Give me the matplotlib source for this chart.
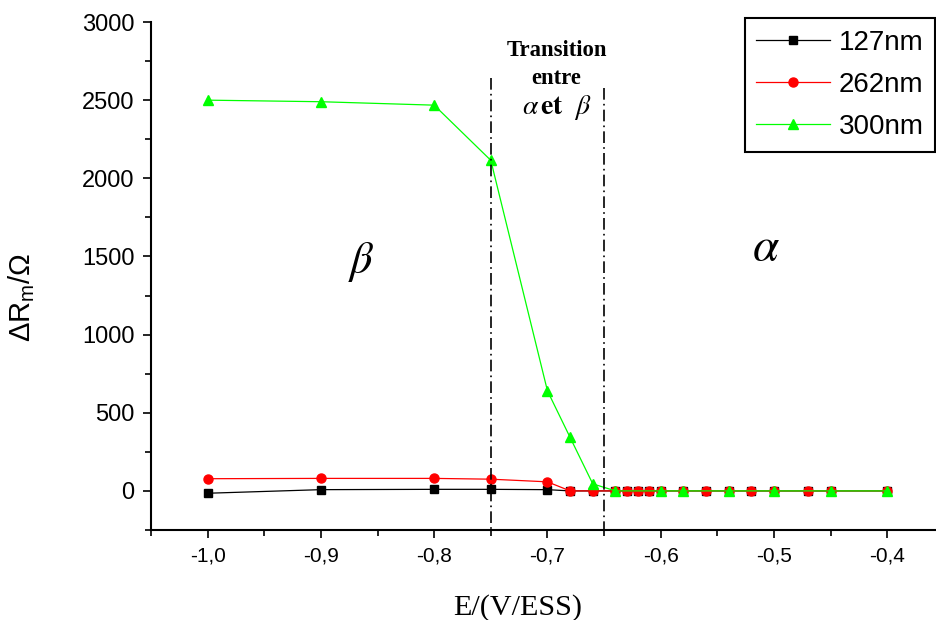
import numpy as np
import matplotlib
matplotlib.use('Agg')
import matplotlib.pyplot as plt
from matplotlib.ticker import MultipleLocator, FuncFormatter

plt.rcParams['font.family'] = 'Liberation Sans'

# données
E_127 = [-1.0, -0.9, -0.8, -0.75, -0.7, -0.68, -0.66, -0.64, -0.63, -0.62,
         -0.61, -0.60, -0.58, -0.56, -0.54, -0.52, -0.50, -0.47, -0.45, -0.40]
dR_127 = [-15, 8, 10, 10, 8, 0, 0, 0, 0, 0, 0, 0, 0, 0, 0, 0, 0, 0, 0, 0]

E_262 = E_127
dR_262 = [78, 80, 80, 75, 58, 0, 0, 0, 0, 0, 0, 0, 0, 0, 0, 0, 0, 0, 0, 0]

E_300 = [-1.0, -0.9, -0.8, -0.75, -0.7, -0.68, -0.66, -0.64, -0.60,
         -0.58, -0.54, -0.50, -0.45, -0.40]
dR_300 = [2500, 2490, 2468, 2115, 640, 342, 45, 0, 0, 0, 0, 0, 0, 0]

labels = ['127nm', '262nm', '300nm']

# limites de la zone de transition
E_trans = [-0.75, -0.65]
top_trans = [2640, 2575]

fig = plt.figure(figsize=(9.36, 6.2), dpi=100)
ax = fig.add_axes([0.1613, 0.1452, 0.8387, 0.8193])

ax.plot(E_127, dR_127, color='black', lw=0.9, marker='s', ms=6, label=labels[0])
ax.plot(E_262, dR_262, color='red', lw=0.9, marker='o', ms=6.5, label=labels[1])
ax.plot(E_300, dR_300, color='#00ff00', lw=0.9, marker='^', ms=7, label=labels[2])

for e, t in zip(E_trans, top_trans):
    ax.plot([e, e], [t, -250], color='black', lw=1.2, linestyle=(0, (7, 2.5, 1, 2.5)))

ax.set_xlim(-1.05, -0.357)
ax.set_ylim(-250, 3000)

ax.spines['top'].set_visible(False)
ax.spines['right'].set_visible(False)
ax.spines['left'].set_linewidth(1.5)
ax.spines['bottom'].set_linewidth(1.5)

ax.xaxis.set_major_locator(MultipleLocator(0.1))
ax.xaxis.set_minor_locator(MultipleLocator(0.05))
ax.yaxis.set_major_locator(MultipleLocator(500))
ax.yaxis.set_minor_locator(MultipleLocator(250))
ax.xaxis.set_major_formatter(FuncFormatter(lambda v, p: f"{v:.1f}".replace('.', ',')))
ax.yaxis.set_major_formatter(FuncFormatter(lambda v, p: f"{v:.0f}"))
ax.tick_params(which='major', direction='out', length=6, width=1.2, labelsize=15, pad=6)
ax.tick_params(axis='y', which='major', labelsize=17)
ax.tick_params(which='minor', direction='out', length=4, width=1.2)

ax.set_xlabel('E/(V/ESS)', family='Liberation Serif', fontsize=21.7, va='baseline')
ax.xaxis.set_label_coords(0.4675, -0.167)
ax.set_ylabel(r'ΔR$_\mathregular{m}$/Ω', fontsize=21)
ax.yaxis.set_label_coords(-0.145, 0.457)

# annotations des phases
ax.text(-0.864, 1462, r'$\beta$', fontsize=32, ha='center', va='center', math_fontfamily='stix')
ax.text(-0.507, 1551, r'$\alpha$', fontsize=34, ha='center', va='center', math_fontfamily='stix')
ax.text(-0.692, 2820, 'Transition', family='Liberation Serif', weight='bold',
        fontsize=16.3, ha='center', va='center')
ax.text(-0.692, 2641, 'entre', family='Liberation Serif', weight='bold',
        fontsize=16.3, ha='center', va='center')
ax.text(-0.692, 2455, r'$\alpha\,\mathbf{et}\ \ \beta$', fontsize=20, ha='center',
        va='center', math_fontfamily='stix')

leg = ax.legend(loc='upper right', bbox_to_anchor=(0.999, 1 - 18 / 620),
                bbox_transform=fig.transFigure, fontsize=20, fancybox=False,
                edgecolor='black', framealpha=1, handlelength=2.65,
                labelspacing=0.58, borderpad=0.42, handletextpad=0.3,
                borderaxespad=0)
leg.get_frame().set_linewidth(1.5)

fig.savefig('out.png', dpi=100)
